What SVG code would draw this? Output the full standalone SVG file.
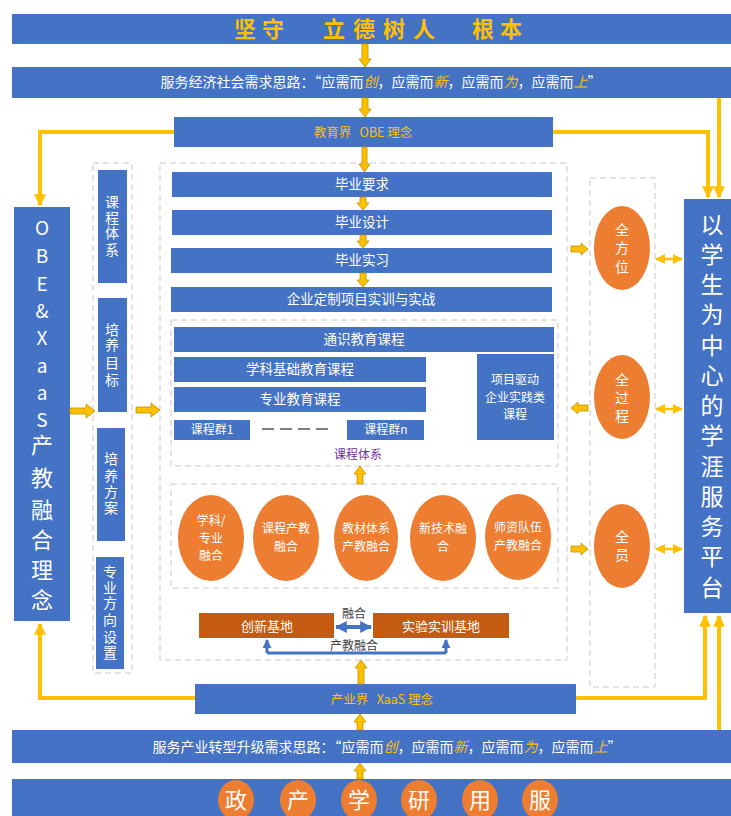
<svg xmlns="http://www.w3.org/2000/svg" width="731" height="816" viewBox="0 0 731 816">
<style>
text{font-family:"Noto Sans CJK SC","Noto Sans",sans-serif}
.bar{fill:#4472C4}
.w{fill:#fff}
.y{fill:#FFC000}
.hl{fill:#FFC000;font-style:italic}
.ell{fill:#ED7D31}
.base{fill:#C55A11}
.dash{fill:none;stroke:#C8C8C8;stroke-width:1;stroke-dasharray:6 4}
.conn{fill:none;stroke:#FFC000;stroke-width:4}
.ba{fill:#FFC000;stroke:#BF9000;stroke-width:0.8}
.dbl{fill:none;stroke:#FFC000;stroke-width:2.5}
.blu{fill:none;stroke:#4472C4;stroke-width:3}
.et{fill:#fff;font-size:12px}
</style>
<defs>
<marker id="ya" viewBox="0 0 10 10" refX="9" refY="5" markerWidth="3" markerHeight="3" orient="auto-start-reverse" markerUnits="strokeWidth">
<path d="M0,0 L10,5 L0,10 Z" fill="#FFC000"/>
</marker>
<marker id="ys" viewBox="0 0 10 10" refX="9" refY="5" markerWidth="4" markerHeight="4" orient="auto-start-reverse" markerUnits="strokeWidth">
<path d="M0,0 L10,5 L0,10 Z" fill="#FFC000"/>
</marker>
<marker id="ba" viewBox="0 0 10 10" refX="9" refY="5" markerWidth="3" markerHeight="3" orient="auto-start-reverse" markerUnits="strokeWidth">
<path d="M0,0 L10,5 L0,10 Z" fill="#4472C4"/>
</marker>
</defs>

<!-- top bars -->
<g id="title">
<rect class="bar" x="12" y="14" width="719" height="30"/>
<text class="y" font-size="22" font-weight="bold" text-anchor="middle" x="245 273 334 364 394 424 483 511" y="37">坚守立德树人根本</text>
</g>
<g id="econ">
<rect class="bar" x="12" y="67" width="719" height="31"/>
<text class="w" font-size="14" text-anchor="middle" x="381" y="87">服务经济社会需求思路：“应需而<tspan class="hl">创</tspan>，应需而<tspan class="hl">新</tspan>，应需而<tspan class="hl">为</tspan>，应需而<tspan class="hl">上</tspan>”</text>
</g>
<g id="obe">
<rect class="bar" x="174" y="117" width="379" height="30"/>
<text class="y" font-size="12.5" text-anchor="middle" x="363" y="137">教育界&#160;&#160;&#160;OBE 理念</text>
</g>

<!-- left concept box -->
<g id="leftbox">
<rect class="bar" x="14" y="207" width="56" height="414"/>
<text class="w" font-size="19" text-anchor="middle" x="42 42 42 42 42 42 42 42" y="235 263 291 318 345 373 400 427">OBE&amp;XaaS</text>
<text class="w" font-size="22" text-anchor="middle" x="42 42 42 42 42 42" y="453 486 518 548 578 608">产教融合理念</text>
</g>

<!-- label column -->
<g id="labelcol">
<rect class="dash" x="93" y="163" width="39" height="510"/>
<rect class="bar" x="98" y="170" width="29" height="113"/>
<text class="w" font-size="14" text-anchor="middle" x="112 112 112 112" y="207 223 238 255">课程体系</text>
<rect class="bar" x="98" y="298" width="29" height="114"/>
<text class="w" font-size="14" text-anchor="middle" x="112 112 112 112" y="335 350 368 385">培养目标</text>
<rect class="bar" x="97" y="428" width="28" height="113"/>
<text class="w" font-size="14" text-anchor="middle" x="111 111 111 111" y="464 481 497 513">培养方案</text>
<rect class="bar" x="96" y="557" width="28" height="112"/>
<text class="w" font-size="14" text-anchor="middle" x="110 110 110 110 110 110" y="577 593 608 625 642 658">专业方向设置</text>
</g>

<!-- main container -->
<g id="main">
<rect class="dash" x="160" y="163" width="407" height="497"/>
<rect class="bar" x="172" y="172" width="380" height="25"/>
<text class="w" font-size="13.5" text-anchor="middle" x="362" y="189">毕业要求</text>
<rect class="bar" x="172" y="210" width="380" height="25"/>
<text class="w" font-size="13.5" text-anchor="middle" x="362" y="227">毕业设计</text>
<rect class="bar" x="171" y="248" width="381" height="25"/>
<text class="w" font-size="13.5" text-anchor="middle" x="362" y="265">毕业实习</text>
<rect class="bar" x="171" y="287" width="381" height="25"/>
<text class="w" font-size="13.5" text-anchor="middle" x="361" y="304">企业定制项目实训与实战</text>
</g>

<g id="courses">
<rect class="dash" x="171" y="320" width="387" height="146"/>
<rect class="bar" x="174" y="327" width="380" height="25"/>
<text class="w" font-size="13.5" text-anchor="middle" x="364" y="344">通识教育课程</text>
<rect class="bar" x="174" y="357" width="252" height="25"/>
<text class="w" font-size="13.5" text-anchor="middle" x="300" y="374">学科基础教育课程</text>
<rect class="bar" x="174" y="387" width="252" height="25"/>
<text class="w" font-size="13.5" text-anchor="middle" x="300" y="404">专业教育课程</text>
<rect class="bar" x="174" y="420" width="76" height="20"/>
<text class="w" font-size="12" text-anchor="middle" x="212" y="434">课程群1</text>
<line x1="262" y1="429" x2="330" y2="429" stroke="#7F7F7F" stroke-width="2" stroke-dasharray="12 6"/>
<rect class="bar" x="347" y="420" width="77" height="20"/>
<text class="w" font-size="12" text-anchor="middle" x="386" y="434">课程群n</text>
<rect class="bar" x="477" y="354" width="77" height="86"/>
<text class="w" font-size="12" text-anchor="middle" x="515" y="384">项目驱动<tspan x="515" dy="17.6">企业实践类</tspan><tspan x="515" dy="17.6">课程</tspan></text>
<text fill="#7030A0" font-size="12" text-anchor="middle" x="358" y="459">课程体系</text>
</g>

<g id="fusion">
<rect class="dash" x="171" y="484" width="387" height="104"/>
<ellipse class="ell" cx="211" cy="538" rx="33" ry="43"/>
<text class="et" text-anchor="middle" x="211" y="525">学科/<tspan x="211" dy="17.6">专业</tspan><tspan x="211" dy="17.6">融合</tspan></text>
<ellipse class="ell" cx="286" cy="538" rx="33" ry="43"/>
<text class="et" text-anchor="middle" x="286" y="533">课程产教<tspan x="286" dy="17.6">融合</tspan></text>
<ellipse class="ell" cx="366" cy="538" rx="32" ry="43"/>
<text class="et" text-anchor="middle" x="366" y="533">教材体系<tspan x="366" dy="17.6">产教融合</tspan></text>
<ellipse class="ell" cx="443" cy="538" rx="33" ry="43"/>
<text class="et" text-anchor="middle" x="443" y="533">新技术融<tspan x="443" dy="17.6">合</tspan></text>
<ellipse class="ell" cx="518" cy="537" rx="33" ry="43"/>
<text class="et" text-anchor="middle" x="518" y="532">师资队伍<tspan x="518" dy="17.6">产教融合</tspan></text>
</g>

<g id="base1">
<rect class="base" x="199" y="613" width="135" height="25"/>
<text class="w" font-size="13" text-anchor="middle" x="267" y="631">创新基地</text>
</g>
<g id="base2">
<rect class="base" x="373" y="613" width="136" height="25"/>
<text class="w" font-size="13" text-anchor="middle" x="441" y="631">实验实训基地</text>
</g>

<!-- right side -->
<g id="rightcol">
<rect class="dash" x="590" y="178" width="65" height="509"/>
</g>
<g id="quanfangwei">
<ellipse class="ell" cx="622" cy="248" rx="28" ry="42"/>
<text class="w" font-size="14" text-anchor="middle" x="622 622 622" y="235 253 272">全方位</text>
</g>
<g id="quanguocheng">
<ellipse class="ell" cx="622" cy="397" rx="28" ry="42"/>
<text class="w" font-size="14" text-anchor="middle" x="622 622 622" y="385 403 421">全过程</text>
</g>
<g id="quanyuan">
<ellipse class="ell" cx="622" cy="546" rx="28" ry="42"/>
<text class="w" font-size="14" text-anchor="middle" x="622 622" y="542 560">全员</text>
</g>
<g id="rightbox">
<rect class="bar" x="684" y="199" width="47" height="414"/>
<text class="w" font-size="23" text-anchor="middle" x="712 712 712 712 712 712 712 712 712 712 712 712 712" y="233 263 293 323 354 384 414 444 475 505 535 565 596">以学生为中心的学涯服务平台</text>
</g>

<!-- bottom -->
<g id="xaas">
<rect class="bar" x="195" y="684" width="381" height="30"/>
<text class="y" font-size="12.5" text-anchor="middle" x="382" y="704">产业界&#160;&#160;&#160;XaaS 理念</text>
</g>
<g id="industry">
<rect class="bar" x="12" y="730" width="719" height="33"/>
<text class="w" font-size="14" text-anchor="middle" x="387" y="752">服务产业转型升级需求思路：“应需而<tspan class="hl">创</tspan>，应需而<tspan class="hl">新</tspan>，应需而<tspan class="hl">为</tspan>，应需而<tspan class="hl">上</tspan>”</text>
</g>
<g id="partners">
<rect class="bar" x="12" y="779" width="719" height="37"/>
<ellipse class="ell" cx="236" cy="800" rx="18" ry="20"/>
<ellipse class="ell" cx="298" cy="800" rx="18" ry="20"/>
<ellipse class="ell" cx="359" cy="800" rx="18" ry="20"/>
<ellipse class="ell" cx="419" cy="800" rx="18" ry="20"/>
<ellipse class="ell" cx="480" cy="800" rx="18" ry="20"/>
<ellipse class="ell" cx="540" cy="800" rx="18" ry="20"/>
<text class="w" font-size="22" text-anchor="middle" x="236 298 359 419 480 540" y="808">政产学研用服</text>
</g>

<!-- connectors -->
<g id="connectors">
<path class="conn" d="M174,132 H40 V205" marker-end="url(#ya)"/>
<path class="conn" d="M195,698 H40 V624" marker-end="url(#ya)"/>
<path class="conn" d="M553,132 H708 V197" marker-end="url(#ya)"/>
<path class="conn" d="M719,98 V197" marker-end="url(#ya)"/>
<path class="conn" d="M576,698 H705 V616" marker-end="url(#ya)"/>
<path class="conn" d="M719,730 V616" marker-end="url(#ya)"/>

<polygon class="ba" points="362,44 368,44 368,59 371,59 365,67 359,59 362,59"/>
<polygon class="ba" points="362,98 368,98 368,109 371,109 365,117 359,109 362,109"/>
<polygon class="ba" points="362,147 367,147 367,164 370,164 364.5,172 359,164 362,164"/>
<polygon class="ba" points="360,197 366,197 366,203 369,203 363,210 357,203 360,203"/>
<polygon class="ba" points="360,235 366,235 366,241 369,241 363,248 357,241 360,241"/>
<polygon class="ba" points="360,273 366,273 366,280 369,280 363,287 357,280 360,280"/>
<polygon class="ba" points="357,484 363,484 363,474 366,474 360,466 354,474 357,474"/>
<polygon class="ba" points="358,684 364,684 364,668 367,668 361,660 355,668 358,668"/>
<polygon class="ba" points="357,730 363,730 363,722 366,722 360,714 354,722 357,722"/>
<polygon class="ba" points="357,779 363,779 363,771 366,771 360,763 354,771 357,771"/>
<polygon class="ba" points="70,408 86,408 86,404 95,411 86,418 86,414 70,414"/>
<polygon class="ba" points="136,407 151,407 151,403 160,410 151,417 151,413 136,413"/>
<polygon class="ba" points="571,246 581,246 581,243 588,249 581,255 581,252 571,252"/>
<polygon class="ba" points="588,405 578,405 578,402 571,408 578,414 578,411 588,411"/>
<polygon class="ba" points="571,546 581,546 581,543 588,549 581,555 581,552 571,552"/>
<line class="dbl" x1="656" y1="259" x2="682" y2="259" marker-start="url(#ys)" marker-end="url(#ys)"/>
<line class="dbl" x1="656" y1="409" x2="682" y2="409" marker-start="url(#ys)" marker-end="url(#ys)"/>
<line class="dbl" x1="656" y1="549" x2="682" y2="549" marker-start="url(#ys)" marker-end="url(#ys)"/>
<line x1="336" y1="627" x2="371" y2="627" stroke="#4472C4" stroke-width="4" marker-start="url(#ba)" marker-end="url(#ba)"/>
<text fill="#404040" font-size="12" text-anchor="middle" x="354" y="618">融合</text>
<path class="blu" d="M267,653 H446"/>
<line class="blu" x1="267" y1="653" x2="267" y2="640" marker-end="url(#ba)"/>
<line class="blu" x1="446" y1="653" x2="446" y2="640" marker-end="url(#ba)"/>
<text fill="#404040" font-size="12" text-anchor="middle" x="354" y="650">产教融合</text>
</g>
</svg>
